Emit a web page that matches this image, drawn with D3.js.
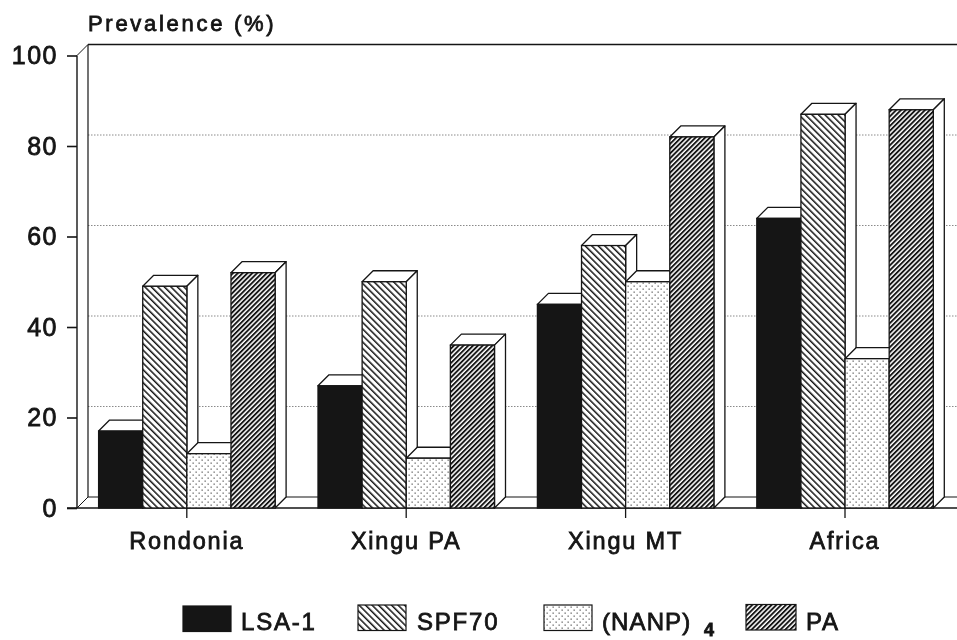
<!DOCTYPE html>
<html><head><meta charset="utf-8">
<script src="https://cdn.jsdelivr.net/npm/d3@7/dist/d3.min.js"></script>
<style>html,body{margin:0;padding:0;background:#fff}svg{display:block;filter:blur(.45px)}
text{font-family:"Liberation Sans",Arial,sans-serif;fill:#151515;stroke:#151515;stroke-width:.8}</style>
</head><body><svg id="c" width="957" height="640"></svg>
<script>
const categories=["Rondonia","Xingu PA","Xingu MT","Africa"];
const seriesNames=["LSA-1","SPF70","(NANP)","PA"];
const lsa1=[17,27,45,64];
const spf70=[49,50,58,87];
const nanp=[12,11,50,33];
const pa=[52,36,82,88];
const seriesValues=[lsa1,spf70,nanp,pa];
const yTicks=[0,20,40,60,80,100];

const svg=d3.select("#c");
const ink="#151515";
const defs=svg.append("defs");
function hatch(id,size,angle,w){
  const p=defs.append("pattern").attr("id",id).attr("patternUnits","userSpaceOnUse")
    .attr("width",size).attr("height",size).attr("patternTransform",`rotate(${angle})`);
  p.append("rect").attr("width",size).attr("height",size).attr("fill","#fff");
  p.append("rect").attr("width",w).attr("height",size).attr("fill",ink);
}
hatch("h1",4.6,-45,1.5);
hatch("h3",3.4,45,1.9);
const dots=defs.append("pattern").attr("id","h2").attr("patternUnits","userSpaceOnUse").attr("width",6).attr("height",6);
dots.append("rect").attr("width",6).attr("height",6).attr("fill","#fff");
[[0.5,0.5],[3.5,3.5]].forEach(d=>dots.append("rect").attr("x",d[0]).attr("y",d[1]).attr("width",1.3).attr("height",1.3).attr("fill","#666"));
const fills=[ink,"url(#h1)","url(#h2)","url(#h3)"];

const y=d3.scaleLinear().domain([0,100]).range([508,55.5]);
const dep=11;
const x0=d3.scaleBand().domain(categories).range([77,954.6]);
const x1=d3.scaleBand().domain(d3.range(4)).range([0,176.5]);
const gx=c=>x0(c)+21.6;

// back wall and floor
const g=svg.append("g");
yTicks.slice(1,5).forEach(t=>g.append("line").attr("x1",77+dep).attr("x2",957)
  .attr("y1",y(t)-dep).attr("y2",y(t)-dep).attr("stroke","#8a8a8a").attr("stroke-width",1).attr("stroke-dasharray","1.5 1.5"));
g.append("line").attr("x1",77+dep).attr("x2",957).attr("y1",y(100)-dep).attr("y2",y(100)-dep).attr("stroke",ink).attr("stroke-width",1.4);
g.append("line").attr("x1",77+dep).attr("x2",957).attr("y1",y(0)-dep).attr("y2",y(0)-dep).attr("stroke",ink).attr("stroke-width",1.2);
g.append("line").attr("x1",77+dep).attr("x2",77+dep).attr("y1",y(100)-dep).attr("y2",y(0)-dep).attr("stroke",ink).attr("stroke-width",1.2);
g.append("line").attr("x1",77).attr("x2",77).attr("y1",y(100)).attr("y2",y(0)).attr("stroke",ink).attr("stroke-width",1.4);
g.append("line").attr("x1",77).attr("x2",88).attr("y1",y(100)).attr("y2",y(100)-dep).attr("stroke",ink);
g.append("line").attr("x1",77).attr("x2",88).attr("y1",y(0)).attr("y2",y(0)-dep).attr("stroke",ink);
g.append("line").attr("x1",67).attr("x2",957).attr("y1",y(0)).attr("y2",y(0)).attr("stroke",ink).attr("stroke-width",1.6);

// y axis
const ax=svg.append("g").attr("transform","translate(77,0)").call(d3.axisLeft(y).tickValues(yTicks).tickSize(10).tickPadding(9));
ax.select(".domain").remove();
ax.selectAll("line").attr("stroke",ink).attr("stroke-width",1.6);
ax.selectAll("text").attr("font-size",25).attr("letter-spacing",1.5).attr("font-family","Liberation Sans").attr("fill",ink);

// bars
categories.forEach((c,ci)=>{
  const gg=svg.append("g");
  seriesValues.forEach((vals,si)=>{
    const v=vals[ci],bx=gx(c)+x1(si),w=x1.bandwidth(),t=y(v),b=y(0);
    gg.append("path").attr("d",`M${bx},${t}L${bx+dep},${t-dep}L${bx+w+dep},${t-dep}L${bx+w},${t}Z`)
      .attr("fill","#fff").attr("stroke",ink).attr("stroke-width",1.3).attr("stroke-linejoin","round");
    gg.append("path").attr("d",`M${bx+w},${t}L${bx+w+dep},${t-dep}L${bx+w+dep},${b-dep}L${bx+w},${b}Z`)
      .attr("fill","#fff").attr("stroke",ink).attr("stroke-width",1.3).attr("stroke-linejoin","round");
    gg.append("rect").attr("x",bx).attr("y",t).attr("width",w).attr("height",b-t)
      .attr("fill",fills[si]).attr("stroke",ink).attr("stroke-width",1.3);
  });
  // x tick
  svg.append("line").attr("x1",gx(c)+88.2).attr("x2",gx(c)+88.2).attr("y1",y(0)).attr("y2",y(0)+10).attr("stroke",ink).attr("stroke-width",1.3);
  svg.append("text").attr("x",gx(c)+88.2).attr("y",549).attr("text-anchor","middle")
    .attr("font-size",23.5).attr("letter-spacing",1.8).text(c);
});

// title
svg.append("text").attr("x",88).attr("y",31).attr("font-size",22).attr("letter-spacing",2.7).text("Prevalence (%)");

// legend
const legX=[183,358,544,746],legY=[606,605,605,604.5],legW=[48,48,48,50],txtX=[241,417,602,806],legSp=[1.8,1.8,1.1,1.8];
seriesNames.forEach((n,i)=>{
  svg.append("rect").attr("x",legX[i]).attr("y",legY[i]).attr("width",legW[i]).attr("height",25.5)
    .attr("fill",fills[i]).attr("stroke",ink).attr("stroke-width",1.2);
  svg.append("text").attr("x",txtX[i]).attr("y",630).attr("font-size",24).attr("letter-spacing",legSp[i]).text(n);
});
svg.append("text").attr("x",704).attr("y",636).attr("font-size",18).attr("font-weight","bold").text("4");
</script></body></html>
